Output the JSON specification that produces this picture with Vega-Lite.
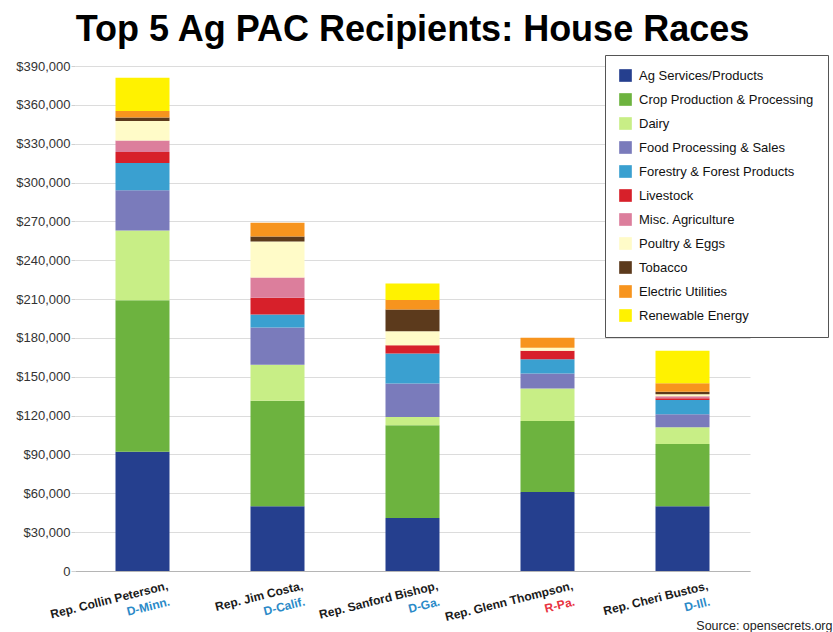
{
  "$schema": "https://vega.github.io/schema/vega-lite/v6.json",
  "width": 675,
  "height": 505,
  "autosize": {"type": "none"},
  "padding": {"left": 75, "top": 66, "right": 83, "bottom": 61},
  "background": "white",
  "title": {
    "text": "Top 5 Ag PAC Recipients: House Races",
    "font": "Liberation Sans",
    "fontSize": 36,
    "fontWeight": "bold",
    "color": "#000000",
    "anchor": "middle",
    "offset": 6
  },
  "datasets": {
    "sectors": [
      {"sector": "Ag Services/Products", "rank": 1},
      {"sector": "Crop Production & Processing", "rank": 2},
      {"sector": "Dairy", "rank": 3},
      {"sector": "Food Processing & Sales", "rank": 4},
      {"sector": "Forestry & Forest Products", "rank": 5},
      {"sector": "Livestock", "rank": 6},
      {"sector": "Misc. Agriculture", "rank": 7},
      {"sector": "Poultry & Eggs", "rank": 8},
      {"sector": "Tobacco", "rank": 9},
      {"sector": "Electric Utilities", "rank": 10},
      {"sector": "Renewable Energy", "rank": 11}
    ],
    "contributions": [
      {"candidate": "Collin Peterson", "sector": "Ag Services/Products", "amount": 92000},
      {"candidate": "Collin Peterson", "sector": "Crop Production & Processing", "amount": 117000},
      {"candidate": "Collin Peterson", "sector": "Dairy", "amount": 54000},
      {"candidate": "Collin Peterson", "sector": "Food Processing & Sales", "amount": 31000},
      {"candidate": "Collin Peterson", "sector": "Forestry & Forest Products", "amount": 21000},
      {"candidate": "Collin Peterson", "sector": "Livestock", "amount": 8500},
      {"candidate": "Collin Peterson", "sector": "Misc. Agriculture", "amount": 9000},
      {"candidate": "Collin Peterson", "sector": "Poultry & Eggs", "amount": 15000},
      {"candidate": "Collin Peterson", "sector": "Tobacco", "amount": 2700},
      {"candidate": "Collin Peterson", "sector": "Electric Utilities", "amount": 5000},
      {"candidate": "Collin Peterson", "sector": "Renewable Energy", "amount": 25800},

      {"candidate": "Jim Costa", "sector": "Ag Services/Products", "amount": 50000},
      {"candidate": "Jim Costa", "sector": "Crop Production & Processing", "amount": 81500},
      {"candidate": "Jim Costa", "sector": "Dairy", "amount": 27800},
      {"candidate": "Jim Costa", "sector": "Food Processing & Sales", "amount": 28800},
      {"candidate": "Jim Costa", "sector": "Forestry & Forest Products", "amount": 10000},
      {"candidate": "Jim Costa", "sector": "Livestock", "amount": 13000},
      {"candidate": "Jim Costa", "sector": "Misc. Agriculture", "amount": 15500},
      {"candidate": "Jim Costa", "sector": "Poultry & Eggs", "amount": 27800},
      {"candidate": "Jim Costa", "sector": "Tobacco", "amount": 3900},
      {"candidate": "Jim Costa", "sector": "Electric Utilities", "amount": 10700},

      {"candidate": "Sanford Bishop", "sector": "Ag Services/Products", "amount": 41000},
      {"candidate": "Sanford Bishop", "sector": "Crop Production & Processing", "amount": 71500},
      {"candidate": "Sanford Bishop", "sector": "Dairy", "amount": 6500},
      {"candidate": "Sanford Bishop", "sector": "Food Processing & Sales", "amount": 25800},
      {"candidate": "Sanford Bishop", "sector": "Forestry & Forest Products", "amount": 23200},
      {"candidate": "Sanford Bishop", "sector": "Livestock", "amount": 6400},
      {"candidate": "Sanford Bishop", "sector": "Poultry & Eggs", "amount": 10800},
      {"candidate": "Sanford Bishop", "sector": "Tobacco", "amount": 16800},
      {"candidate": "Sanford Bishop", "sector": "Electric Utilities", "amount": 7200},
      {"candidate": "Sanford Bishop", "sector": "Renewable Energy", "amount": 12900},

      {"candidate": "Glenn Thompson", "sector": "Ag Services/Products", "amount": 61000},
      {"candidate": "Glenn Thompson", "sector": "Crop Production & Processing", "amount": 54800},
      {"candidate": "Glenn Thompson", "sector": "Dairy", "amount": 25200},
      {"candidate": "Glenn Thompson", "sector": "Food Processing & Sales", "amount": 11600},
      {"candidate": "Glenn Thompson", "sector": "Forestry & Forest Products", "amount": 11000},
      {"candidate": "Glenn Thompson", "sector": "Livestock", "amount": 6400},
      {"candidate": "Glenn Thompson", "sector": "Poultry & Eggs", "amount": 2500},
      {"candidate": "Glenn Thompson", "sector": "Electric Utilities", "amount": 7700},

      {"candidate": "Cheri Bustos", "sector": "Ag Services/Products", "amount": 50000},
      {"candidate": "Cheri Bustos", "sector": "Crop Production & Processing", "amount": 48000},
      {"candidate": "Cheri Bustos", "sector": "Dairy", "amount": 13000},
      {"candidate": "Cheri Bustos", "sector": "Food Processing & Sales", "amount": 10000},
      {"candidate": "Cheri Bustos", "sector": "Forestry & Forest Products", "amount": 11000},
      {"candidate": "Cheri Bustos", "sector": "Livestock", "amount": 1500},
      {"candidate": "Cheri Bustos", "sector": "Misc. Agriculture", "amount": 1500},
      {"candidate": "Cheri Bustos", "sector": "Poultry & Eggs", "amount": 1500},
      {"candidate": "Cheri Bustos", "sector": "Tobacco", "amount": 2000},
      {"candidate": "Cheri Bustos", "sector": "Electric Utilities", "amount": 6500},
      {"candidate": "Cheri Bustos", "sector": "Renewable Energy", "amount": 25000}
    ],
    "candidates": [
      {"candidate": "Collin Peterson", "name": "Rep. Collin Peterson,", "district": "D-Minn.", "party": "D"},
      {"candidate": "Jim Costa", "name": "Rep. Jim Costa,", "district": "D-Calif.", "party": "D"},
      {"candidate": "Sanford Bishop", "name": "Rep. Sanford Bishop,", "district": "D-Ga.", "party": "D"},
      {"candidate": "Glenn Thompson", "name": "Rep. Glenn Thompson,", "district": "R-Pa.", "party": "R"},
      {"candidate": "Cheri Bustos", "name": "Rep. Cheri Bustos,", "district": "D-Ill.", "party": "D"}
    ]
  },
  "layer": [
    {
      "data": {"name": "contributions"},
      "transform": [
        {"lookup": "sector", "from": {"data": {"name": "sectors"}, "key": "sector", "fields": ["rank"]}}
      ],
      "mark": {"type": "bar"},
      "encoding": {
        "x": {
          "field": "candidate",
          "type": "nominal",
          "sort": ["Collin Peterson", "Jim Costa", "Sanford Bishop", "Glenn Thompson", "Cheri Bustos"],
          "scale": {"paddingInner": 0.6, "paddingOuter": 0.3},
          "axis": {
            "labels": false,
            "ticks": false,
            "domain": true,
            "domainColor": "#b5b5b5",
            "grid": false,
            "title": "Source: opensecrets.org",
            "titleFont": "Liberation Sans",
            "titleFontSize": 12.5,
            "titleFontWeight": "normal",
            "titleColor": "#222222",
            "titleAlign": "right",
            "titleAnchor": null,
            "titleX": 757,
            "titleY": 58,
            "titleBaseline": "alphabetic"
          }
        },
        "y": {
          "field": "amount",
          "type": "quantitative",
          "stack": "zero",
          "scale": {"domain": [0, 390000], "nice": false},
          "axis": {
            "title": null,
            "values": [0, 30000, 60000, 90000, 120000, 150000, 180000, 210000, 240000, 270000, 300000, 330000, 360000, 390000],
            "labelExpr": "datum.value === 0 ? '0' : '$' + format(datum.value, ',')",
            "labelOverlap": false,
            "labelFont": "Liberation Sans",
            "labelFontSize": 13,
            "labelColor": "#333333",
            "labelPadding": 1,
            "domain": false,
            "ticks": true,
            "tickSize": 4,
            "tickColor": "#d0d0d0",
            "grid": true,
            "gridColor": "#dcdcdc",
            "gridWidth": 1
          }
        },
        "color": {
          "field": "sector",
          "type": "nominal",
          "scale": {
            "domain": ["Ag Services/Products", "Crop Production & Processing", "Dairy", "Food Processing & Sales", "Forestry & Forest Products", "Livestock", "Misc. Agriculture", "Poultry & Eggs", "Tobacco", "Electric Utilities", "Renewable Energy"],
            "range": ["#253f8e", "#6db33f", "#c8ee86", "#7a7bbb", "#3aa0d0", "#d7202a", "#dc7e9c", "#fffbc8", "#5c3a1c", "#f7941e", "#fff200"]
          },
          "legend": {
            "orient": "none",
            "legendX": 530,
            "legendY": -11,
            "direction": "vertical",
            "title": null,
            "fillColor": "#ffffff",
            "strokeColor": "#555555",
            "padding": 14,
            "rowPadding": 10,
            "symbolType": "square",
            "symbolSize": 160,
            "symbolStrokeWidth": 0,
            "symbolOpacity": 1,
            "labelFont": "Liberation Sans",
            "labelFontSize": 13,
            "labelColor": "#111111",
            "labelOffset": 7,
            "labelLimit": 300
          }
        },
        "order": {"field": "rank", "type": "quantitative", "sort": "ascending"}
      }
    },
    {
      "data": {"name": "candidates"},
      "mark": {
        "type": "text",
        "align": "right",
        "baseline": "alphabetic",
        "angle": 346,
        "dx": 21,
        "dy": 24,
        "font": "Liberation Sans",
        "fontSize": 12,
        "fontWeight": "bold",
        "color": "#1a1a1a"
      },
      "encoding": {
        "x": {"field": "candidate", "type": "nominal", "sort": ["Collin Peterson", "Jim Costa", "Sanford Bishop", "Glenn Thompson", "Cheri Bustos"]},
        "y": {
          "datum": 0,
          "type": "quantitative",
          "axis": {
            "title": null,
            "values": [0, 30000, 60000, 90000, 120000, 150000, 180000, 210000, 240000, 270000, 300000, 330000, 360000, 390000],
            "labelExpr": "datum.value === 0 ? '0' : '$' + format(datum.value, ',')",
            "labelOverlap": false,
            "labelFont": "Liberation Sans",
            "labelFontSize": 13,
            "labelColor": "#333333",
            "labelPadding": 1,
            "domain": false,
            "ticks": true,
            "tickSize": 4,
            "tickColor": "#d0d0d0",
            "grid": true,
            "gridColor": "#dcdcdc",
            "gridWidth": 1
          }
        },
        "text": {"field": "name"}
      }
    },
    {
      "data": {"name": "candidates"},
      "mark": {
        "type": "text",
        "align": "right",
        "baseline": "alphabetic",
        "angle": 346,
        "dx": 19,
        "dy": 40,
        "font": "Liberation Sans",
        "fontSize": 12,
        "fontWeight": "bold"
      },
      "encoding": {
        "x": {"field": "candidate", "type": "nominal", "sort": ["Collin Peterson", "Jim Costa", "Sanford Bishop", "Glenn Thompson", "Cheri Bustos"]},
        "y": {
          "datum": 0,
          "type": "quantitative",
          "axis": {
            "title": null,
            "values": [0, 30000, 60000, 90000, 120000, 150000, 180000, 210000, 240000, 270000, 300000, 330000, 360000, 390000],
            "labelExpr": "datum.value === 0 ? '0' : '$' + format(datum.value, ',')",
            "labelOverlap": false,
            "labelFont": "Liberation Sans",
            "labelFontSize": 13,
            "labelColor": "#333333",
            "labelPadding": 1,
            "domain": false,
            "ticks": true,
            "tickSize": 4,
            "tickColor": "#d0d0d0",
            "grid": true,
            "gridColor": "#dcdcdc",
            "gridWidth": 1
          }
        },
        "text": {"field": "district"},
        "color": {
          "condition": {"test": "datum.party === 'R'", "value": "#e8323f"},
          "value": "#2a8ac8"
        }
      }
    }
  ],
  "config": {
    "view": {"stroke": null},
    "font": "Liberation Sans"
  }
}
